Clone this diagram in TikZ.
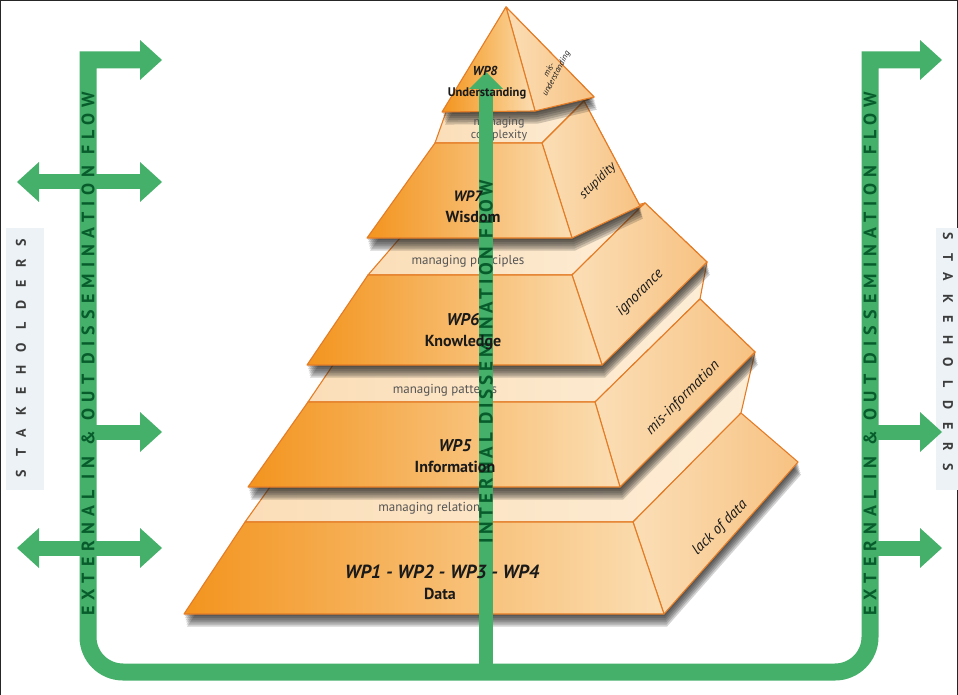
\documentclass[tikz,border=0pt]{standalone}
\usepackage{fontspec}
\setmainfont{PT Sans}
\newfontfamily\stakefont[LetterSpace=92]{PT Sans}
\newfontfamily\extfont[LetterSpace=34]{PT Sans}
\newfontfamily\intfont[LetterSpace=20]{PT Sans}
\usetikzlibrary{arrows.meta,calc}

\definecolor{orDeep}{RGB}{243,148,30}
\definecolor{orMid}{RGB}{246,168,62}
\definecolor{orPale}{RGB}{251,222,180}
\definecolor{sideA}{RGB}{251,222,182}
\definecolor{sideB}{RGB}{247,194,130}
\definecolor{capA}{RGB}{251,222,184}
\definecolor{capB}{RGB}{253,237,214}
\definecolor{edgeC}{RGB}{228,124,38}
\definecolor{flowG}{RGB}{68,176,106}
\definecolor{flowT}{RGB}{8,92,44}
\definecolor{labelC}{RGB}{26,26,26}
\definecolor{mgrC}{RGB}{85,85,85}
\definecolor{boxC}{RGB}{236,242,245}
\definecolor{stakeC}{RGB}{60,60,60}
\definecolor{shadowC}{RGB}{30,30,30}

% soft drop shadow of a slab outline given by six corner names
\newcommand{\slabshadow}[6]{%
  \foreach \k in {1,2,...,6}{%
    \path[fill=shadowC, fill opacity=0.2]
      ($(#1)+(0.5*\k,2.1*\k)$) -- ($(#2)+(0.5*\k,2.1*\k)$) --
      ($(#3)+(0.5*\k,2.1*\k)$) -- ($(#4)+(0.5*\k,2.1*\k)$) --
      ($(#5)+(0.5*\k,2.1*\k)$) -- ($(#6)+(0.5*\k,2.1*\k)$) -- cycle;}}

\begin{document}
\begin{tikzpicture}[x=1pt,y=-1pt,
  frontface/.style={left color=orDeep, middle color=orMid, right color=orPale,
    draw=edgeC, line width=1.1pt, line join=round},
  sideface/.style={left color=sideA, right color=sideB,
    draw=edgeC, line width=1.1pt, line join=round},
  capface/.style={left color=capA, right color=capB,
    draw=edgeC, line width=1.1pt, line join=round},
  flowmain/.style={draw=flowG, line width=17pt, line join=miter,
    {Triangle[length=22pt,width=40pt,line width=0pt]}-{Triangle[length=22pt,width=40pt,line width=0pt]}},
  flowboth/.style={draw=flowG, line width=15pt,
    {Triangle[length=22pt,width=40pt,line width=0pt]}-{Triangle[length=22pt,width=40pt,line width=0pt]}},
  flowone/.style={draw=flowG, line width=15pt,
    -{Triangle[length=22pt,width=40pt,line width=0pt]}},
  flowint/.style={draw=flowG, line width=14pt,
    -{Triangle[length=17pt,width=34pt,line width=0pt]}},
  exttext/.style={rotate=90, text=flowT, inner sep=0,
    font={\extfont\bfseries\fontsize{18}{18}\selectfont}},
  inttext/.style={rotate=90, text=flowT, inner sep=0,
    font={\intfont\bfseries\fontsize{19}{19}\selectfont}},
  stake/.style={text=stakeC, inner sep=0,
    font={\stakefont\bfseries\fontsize{14}{14}\selectfont}},
  wp/.style={text=labelC, inner sep=0, font={\bfseries\itshape\fontsize{17}{17}\selectfont}},
  level/.style={text=labelC, inner sep=0, font={\bfseries\fontsize{16}{16}\selectfont}},
  mgr/.style={text=mgrC, inner sep=0, align=center, font={\fontsize{13}{13}\selectfont}},
  flaw/.style={text=labelC, inner sep=0, rotate=45, font={\itshape\fontsize{15}{15}\selectfont}}
]
\useasboundingbox (0,0) rectangle (958,695);
\fill[white] (0,0) rectangle (958,695);
\draw[black!85, line width=1pt] (0.5,695) -- (0.5,0.5) -- (957.5,0.5) -- (957.5,695);

% ---------- stakeholder panels ----------
\fill[boxC] (6,228) rectangle (44,490);
\fill[boxC] (936,228) rectangle (958,490);
\node[stake, rotate=90] (st-l) at (21,358) {STAKEHOLDERS};
\node[stake, rotate=-90] (st-r) at (948,352) {STAKEHOLDERS};

% ---------- external flow ----------
\coordinate (L-tip) at (162,60);
\coordinate (L-top) at (88,60);
\coordinate (L-low) at (88,637);
\coordinate (R-low) at (835,672);
\coordinate (R-top) at (870,60);
\coordinate (R-tip) at (942,60);
\draw[flowmain] (L-tip) -- (L-top) -- (L-low) arc[start angle=180,end angle=90,radius=35]
  -- (R-low) arc[start angle=90,end angle=0,radius=35] -- (R-top) -- (R-tip);

\coordinate (la1) at (17,182);  \coordinate (lb1) at (162,182);
\coordinate (la2) at (88,432);  \coordinate (lb2) at (162,432);
\coordinate (la3) at (17,548);  \coordinate (lb3) at (162,548);
\coordinate (ra1) at (870,432); \coordinate (rb1) at (942,432);
\coordinate (ra2) at (870,548); \coordinate (rb2) at (942,548);
\draw[flowboth] (la1) -- (lb1);
\draw[flowone]  (la2) -- (lb2);
\draw[flowboth] (la3) -- (lb3);
\draw[flowone]  (ra1) -- (rb1);
\draw[flowone]  (ra2) -- (rb2);

\node[exttext] (ext-l) at (88,354) {EXTERNAL IN \& OUT DISSEMINATION FLOW};
\node[exttext] (ext-r) at (870,354) {EXTERNAL IN \& OUT DISSEMINATION FLOW};

% ---------- pyramid corners ----------
% data slab
\coordinate (D-ftl) at (245,522); \coordinate (D-ftr) at (633,522);
\coordinate (D-fbr) at (664,614); \coordinate (D-fbl) at (184,614);
\coordinate (D-btr) at (741,413); \coordinate (D-bbr) at (798,462);
\coordinate (D-bl)  at (270,487);
% information slab
\coordinate (N-ftl) at (308,402); \coordinate (N-ftr) at (595,402);
\coordinate (N-fbr) at (620,487); \coordinate (N-fbl) at (248,487);
\coordinate (N-btr) at (700,299); \coordinate (N-bbr) at (755,352);
\coordinate (N-bl)  at (333,365);
% knowledge slab
\coordinate (K-ftl) at (368,275); \coordinate (K-ftr) at (572,275);
\coordinate (K-fbr) at (602,365); \coordinate (K-fbl) at (307,365);
\coordinate (K-btr) at (645,203); \coordinate (K-bbr) at (707,262);
\coordinate (K-bl)  at (400,238);
% wisdom slab
\coordinate (W-ftl) at (435,143); \coordinate (W-ftr) at (542,143);
\coordinate (W-fbr) at (572,238); \coordinate (W-fbl) at (367,238);
\coordinate (W-btr) at (584,101); \coordinate (W-bbr) at (640,206);
\coordinate (W-bl)  at (446,112);
% understanding tip
\coordinate (U-apex) at (506,7);
\coordinate (U-fbl) at (442,112); \coordinate (U-fbr) at (535,111);
\coordinate (U-bbr) at (594,97);

% ---------- data slab ----------
\slabshadow{D-fbl}{D-ftl}{D-ftr}{D-btr}{D-bbr}{D-fbr}
\draw[capface] (D-ftl) -- (D-ftr) -- (D-btr) -- (N-bbr) -- (N-btr) -- (N-ftl) -- (D-bl) -- cycle;
\draw[sideface] (D-ftr) -- (D-btr) -- (D-bbr) -- (D-fbr) -- cycle;
\draw[frontface] (D-ftl) -- (D-ftr) -- (D-fbr) -- (D-fbl) -- cycle;

% ---------- information slab ----------
\slabshadow{N-fbl}{N-ftl}{N-ftr}{N-btr}{N-bbr}{N-fbr}
\draw[capface] (N-ftl) -- (N-ftr) -- (N-btr) -- (K-bbr) -- (K-btr) -- (K-ftl) -- (N-bl) -- cycle;
\draw[sideface] (N-ftr) -- (N-btr) -- (N-bbr) -- (N-fbr) -- cycle;
\draw[frontface] (N-ftl) -- (N-ftr) -- (N-fbr) -- (N-fbl) -- cycle;

% ---------- knowledge slab ----------
\slabshadow{K-fbl}{K-ftl}{K-ftr}{K-btr}{K-bbr}{K-fbr}
\draw[capface] (K-ftl) -- (K-ftr) -- (K-btr) -- (W-bbr) -- (W-btr) -- (W-ftl) -- (K-bl) -- cycle;
\draw[sideface] (K-ftr) -- (K-btr) -- (K-bbr) -- (K-fbr) -- cycle;
\draw[frontface] (K-ftl) -- (K-ftr) -- (K-fbr) -- (K-fbl) -- cycle;

% ---------- wisdom slab ----------
\slabshadow{W-fbl}{W-ftl}{W-ftr}{W-btr}{W-bbr}{W-fbr}
\draw[capface] (W-ftl) -- (W-ftr) -- (W-btr) -- (U-bbr) -- (U-apex) -- (W-bl) -- cycle;
\draw[sideface] (W-ftr) -- (W-btr) -- (W-bbr) -- (W-fbr) -- cycle;
\draw[frontface] (W-ftl) -- (W-ftr) -- (W-fbr) -- (W-fbl) -- cycle;

% ---------- understanding tip ----------
\slabshadow{U-fbl}{U-apex}{U-apex}{U-bbr}{U-bbr}{U-fbr}
\draw[sideface] (U-apex) -- (U-bbr) -- (U-fbr) -- cycle;
\draw[frontface, middle color=orMid!70!orPale] (U-apex) -- (U-fbr) -- (U-fbl) -- cycle;

% ---------- management bands ----------
\node[mgr, font={\fontsize{12}{11}\selectfont}] (m-cpx) at (499,129) {managing\\complexity};
\node[mgr] (m-pri) at (468,261) {managing principles};
\node[mgr] (m-pat) at (445,390) {managing patterns};
\node[mgr] (m-rel) at (432,508) {managing relations};

% ---------- internal flow ----------
\coordinate (in-base) at (486,672);
\coordinate (in-tip) at (486,72);
\draw[flowint] (in-base) -- (in-tip);
\node[inttext] (int-txt) at (486,362) {INTERNAL DISSEMINATION FLOW};

% ---------- level labels ----------
\node[wp, font={\bfseries\itshape\fontsize{13}{13}\selectfont}] (wp8) at (485,71) {WP8};
\node[level, font={\bfseries\fontsize{12.5}{12.5}\selectfont}] (lv8) at (487,93) {Understanding};
\node[wp, font={\bfseries\itshape\fontsize{15}{15}\selectfont}] (wp7) at (468,196) {WP7};
\node[level] (lv7) at (473,217) {Wisdom};
\node[wp] (wp6) at (463,320) {WP6};
\node[level] (lv6) at (463,343) {Knowledge};
\node[wp] (wp5) at (455,446) {WP5};
\node[level] (lv5) at (455,467) {Information};
\node[wp, font={\bfseries\itshape\fontsize{19}{19}\selectfont}] (wp14) at (442,572) {WP1 - WP2 - WP3 - WP4};
\node[level] (lv1) at (440,594) {Data};

% ---------- failure modes on the side faces ----------
\node[flaw, rotate=17, align=center, font={\itshape\fontsize{8.5}{8}\selectfont}] (f8) at (553,72) {mis-\\understanding};
\node[flaw, font={\itshape\fontsize{13}{13}\selectfont}] (f7) at (598,181) {stupidity};
\node[flaw] (f6) at (640,293) {ignorance};
\node[flaw] (f5) at (683,398) {mis-information};
\node[flaw] (f1) at (720,528) {lack of data};
\end{tikzpicture}
\end{document}
